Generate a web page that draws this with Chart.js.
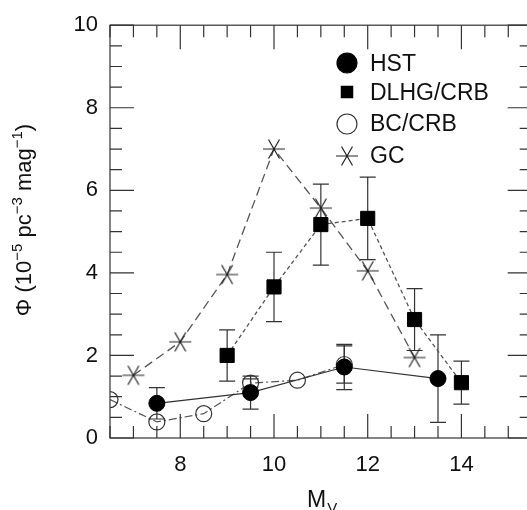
<!DOCTYPE html>
<html>
<head>
<meta charset="utf-8">
<script src="https://cdn.jsdelivr.net/npm/chart.js@4/dist/chart.umd.min.js"></script>
<style>
html, body { margin: 0; padding: 0; background: #fff; overflow: hidden; }
#wrap { width: 545px; height: 510px; }
</style>
</head>
<body>
<div id="wrap"><canvas id="myChart" width="545" height="510"></canvas></div>
<script>
// values
var hstX = [7.5, 9.5, 11.5, 13.5];
var hstY = [0.84, 1.10, 1.72, 1.44];
var hstErr = [0.38, 0.40, 0.55, 1.06];

var dlhgX = [9, 10, 11, 12, 13, 14];
var dlhgY = [2.0, 3.66, 5.17, 5.32, 2.87, 1.34];
var dlhgErr = [0.62, 0.84, 0.98, 1.0, 0.75, 0.52];

var bcX = [6.5, 7.5, 8.5, 9.5, 10.5, 11.5];
var bcY = [0.93, 0.39, 0.59, 1.33, 1.40, 1.78];
var bcErr = [0, 0, 0, 0.10, 0, 0.45];

var gcX = [7, 8, 9, 10, 11, 12, 13];
var gcY = [1.52, 2.33, 3.96, 7.0, 5.57, 4.05, 1.95];

var xTicks = [8, 10, 12, 14];
var yTicks = [0, 2, 4, 6, 8, 10];

var labels = ['HST', 'DLHG/CRB', 'BC/CRB', 'GC'];

function pts(xs, ys) {
    return xs.map(function (x, i) { return { x: x, y: ys[i] }; });
}

// six armed asterisk marker
function makeStar(size) {
    var c = document.createElement('canvas');
    c.width = size; c.height = size;
    var g = c.getContext('2d');
    g.strokeStyle = '#222';
    g.lineWidth = 1.2;
    var m = size / 2, r = size / 2 - 1;
    g.beginPath();
    for (var i = 0; i < 3; i++) {
        var a = i * Math.PI / 3;
        g.moveTo(m + r * Math.cos(a), m + r * Math.sin(a));
        g.lineTo(m - r * Math.cos(a), m - r * Math.sin(a));
    }
    g.stroke();
    return c;
}
var star = makeStar(24);

var FONT = '"Liberation Sans", Arial, Helvetica, sans-serif';
var INK = '#111';

var framePlugin = {
    id: 'frame',
    beforeDatasetsDraw: function (chart) {
        var ctx = chart.ctx, xs = chart.scales.x, ys = chart.scales.y;
        ctx.save();
        ctx.strokeStyle = '#333';
        ctx.lineWidth = 1.2;
        chart.data.datasets.forEach(function (ds) {
            if (!ds.errors) return;
            ds.data.forEach(function (p, i) {
                var e = ds.errors[i];
                if (!e) return;
                var px = xs.getPixelForValue(p.x);
                var top = ys.getPixelForValue(p.y + e);
                var bot = ys.getPixelForValue(p.y - e);
                ctx.beginPath();
                ctx.moveTo(px, top); ctx.lineTo(px, bot);
                ctx.moveTo(px - 8, top); ctx.lineTo(px + 8, top);
                ctx.moveTo(px - 8, bot); ctx.lineTo(px + 8, bot);
                ctx.stroke();
            });
        });
        ctx.restore();
    },
    afterDraw: function (chart) {
        var ctx = chart.ctx, a = chart.chartArea;
        var xs = chart.scales.x, ys = chart.scales.y;
        ctx.save();
        ctx.strokeStyle = '#333';
        ctx.lineWidth = 1.2;
        ctx.strokeRect(a.left, a.top, a.right - a.left, a.bottom - a.top);

        // inward ticks on all four sides
        ctx.beginPath();
        for (var v = xs.min; v <= xs.max + 1e-6; v += 0.5) {
            var px = xs.getPixelForValue(v);
            var len = (Math.abs(v % 2) < 1e-6) ? 24 : 12;
            ctx.moveTo(px, a.bottom); ctx.lineTo(px, a.bottom - len);
            ctx.moveTo(px, a.top); ctx.lineTo(px, a.top + len);
        }
        for (var w = ys.min; w <= ys.max + 1e-6; w += 0.5) {
            var py = ys.getPixelForValue(w);
            var l2 = (Math.abs(w % 2) < 1e-6) ? 24 : 12;
            ctx.moveTo(a.left, py); ctx.lineTo(a.left + l2, py);
            ctx.moveTo(a.right, py); ctx.lineTo(a.right - l2, py);
        }
        ctx.stroke();

        // legend
        var lx = 347, tx = 370;
        var my = [63, 92, 124, 156];
        var ty = [71, 100, 131, 163];
        var sizes = [10, 8, 10, 0];
        chart.data.datasets.forEach(function (ds, i) {
            ctx.fillStyle = ds.pointBackgroundColor;
            ctx.strokeStyle = ds.pointBorderColor;
            ctx.lineWidth = 1.2;
            Chart.helpers.drawPoint(ctx, {
                pointStyle: ds.pointStyle, rotation: 0,
                radius: sizes[i], borderWidth: 1.2
            }, lx, my[i]);
            ctx.fillStyle = INK;
            ctx.font = '23px ' + FONT;
            ctx.textBaseline = 'alphabetic';
            ctx.textAlign = 'left';
            ctx.fillText(ds.label, tx, ty[i]);
        });

        // y title with superscripts
        var parts = [['\u03A6 (10', 0], ['\u22125', 1], [' pc', 0], ['\u22123', 1],
                     [' mag', 0], ['\u22121', 1], [')', 0]];
        var total = 0;
        parts.forEach(function (p) {
            ctx.font = (p[1] ? '15px ' : '22px ') + FONT;
            total += ctx.measureText(p[0]).width;
        });
        ctx.translate(31, 220);
        ctx.rotate(-Math.PI / 2);
        ctx.fillStyle = INK;
        var cx = -total / 2;
        parts.forEach(function (p) {
            ctx.font = (p[1] ? '15px ' : '22px ') + FONT;
            ctx.fillText(p[0], cx, p[1] ? -9 : 0);
            cx += ctx.measureText(p[0]).width;
        });
        ctx.setTransform(1, 0, 0, 1, 0, 0);

        // x title M_V
        ctx.font = '23px ' + FONT;
        var mw = ctx.measureText('M').width;
        ctx.fillText('M', 307, 507);
        ctx.font = '15px ' + FONT;
        ctx.fillText('V', 307 + mw + 1, 513);
        ctx.restore();
    }
};

var ctx = document.getElementById('myChart').getContext('2d');
var myChart = new Chart(ctx, {
    type: 'scatter',
    data: {
        datasets: [
            {
                label: labels[0],
                data: pts(hstX, hstY),
                errors: hstErr,
                showLine: true,
                borderColor: '#333',
                borderWidth: 1.2,
                pointStyle: 'circle',
                pointRadius: 8,
                pointBackgroundColor: '#000',
                pointBorderColor: '#000',
                pointBorderWidth: 1
            },
            {
                label: labels[1],
                data: pts(dlhgX, dlhgY),
                errors: dlhgErr,
                showLine: true,
                borderColor: '#555',
                borderWidth: 1.3,
                borderDash: [4, 3],
                pointStyle: 'rect',
                pointRadius: 10,
                pointBackgroundColor: '#000',
                pointBorderColor: '#000',
                pointBorderWidth: 1
            },
            {
                label: labels[2],
                data: pts(bcX, bcY),
                errors: bcErr,
                showLine: true,
                clip: 0,
                borderColor: '#555',
                borderWidth: 1.2,
                borderDash: [8, 3, 2, 3],
                pointStyle: 'circle',
                pointRadius: 8,
                pointBackgroundColor: 'rgba(0,0,0,0)',
                pointBorderColor: '#333',
                pointBorderWidth: 1.2
            },
            {
                label: labels[3],
                data: pts(gcX, gcY),
                showLine: true,
                borderColor: '#555',
                borderWidth: 1.3,
                borderDash: [9, 5],
                pointStyle: star,
                pointRadius: 12,
                pointBackgroundColor: 'rgba(0,0,0,0)',
                pointBorderColor: '#222'
            }
        ]
    },
    options: {
        responsive: false,
        animation: false,
        layout: { padding: { top: 18, right: 13, left: 0, bottom: 0 } },
        plugins: {
            legend: { display: false },
            tooltip: { enabled: false }
        },
        scales: {
            x: {
                type: 'linear',
                min: 6.5,
                max: 15.5,
                grid: { display: false, drawTicks: false },
                border: { display: false },
                afterBuildTicks: function (s) { s.ticks = xTicks.map(function (v) { return { value: v }; }); },
                afterFit: function (s) { s.height = 72; },
                ticks: {
                    padding: 14,
                    color: INK,
                    font: { family: FONT, size: 22 }
                }
            },
            y: {
                min: 0,
                max: 10,
                grid: { display: false, drawTicks: false },
                border: { display: false },
                afterBuildTicks: function (s) { s.ticks = yTicks.map(function (v) { return { value: v }; }); },
                afterFit: function (s) { s.width = 110; },
                ticks: {
                    padding: 12,
                    color: INK,
                    font: { family: FONT, size: 22 }
                }
            }
        }
    },
    plugins: [framePlugin]
});
</script>
</body>
</html>
